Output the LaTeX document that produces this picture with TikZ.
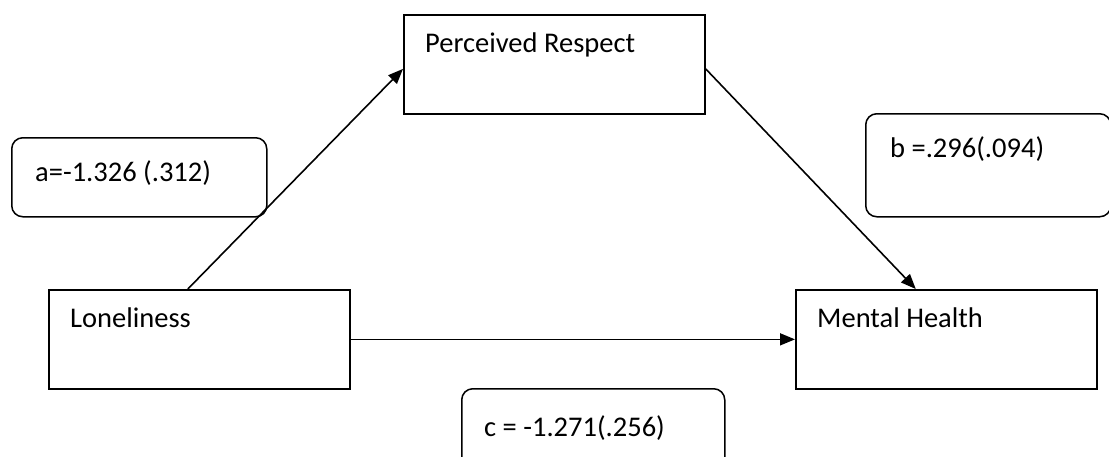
\documentclass[tikz,border=0pt]{standalone}
\usepackage{fontspec}
\setmainfont{Carlito}
\usetikzlibrary{arrows.meta,calc}
\tikzset{
  box/.style={draw, line width=1.7pt, inner sep=0pt, anchor=north west},
  coef/.style={draw, line width=1.5pt, rounded corners=11pt, inner sep=0pt, anchor=north west},
  lbl/.style={inner sep=0pt, anchor=base west, font=\fontsize{28.5}{33}\selectfont},
  arr/.style={line width=1.6pt, -{Triangle[length=15pt,width=12pt]}}
}
\begin{document}
\begin{tikzpicture}[x=1pt,y=-1pt]
\useasboundingbox (0,0) rectangle (1109,456);
% main boxes
\node[box, minimum width=301pt, minimum height=99pt] (PR) at (403,14) {};
\node[box, minimum width=301pt, minimum height=99pt] (L) at (48,289) {};
\node[box, minimum width=301pt, minimum height=99pt] (MH) at (795,289) {};
% coefficient boxes
\node[coef, minimum width=255pt, minimum height=79pt] (A) at (11,137) {};
\node[coef, minimum width=245pt, minimum height=103pt] (B) at (865,113) {};
\node[coef, minimum width=263pt, minimum height=90pt] (C) at (461,388) {};
% texts
\node[lbl] (PRt) at (425,52) {Perceived Respect};
\node[lbl] (Lt) at (70,327) {Loneliness};
\node[lbl] (MHt) at (817,327) {Mental Health};
\node[lbl] (At) at (35,181) {a=-1.326 (.312)};
\node[lbl] (Bt) at (890,157) {b =.296(.094)};
\node[lbl] (Ct) at (484,436) {c = -1.271(.256)};
% arrows
\draw[arr] ($(L.north west)!0.462!(L.north east)$) -- ($(PR.north west)!0.545!(PR.south west)$);
\draw[arr] ($(PR.north east)!0.545!(PR.south east)$) -- ($(MH.north west)!0.399!(MH.north east)$);
\draw[arr] (L.east) -- (MH.west);
\end{tikzpicture}
\end{document}
